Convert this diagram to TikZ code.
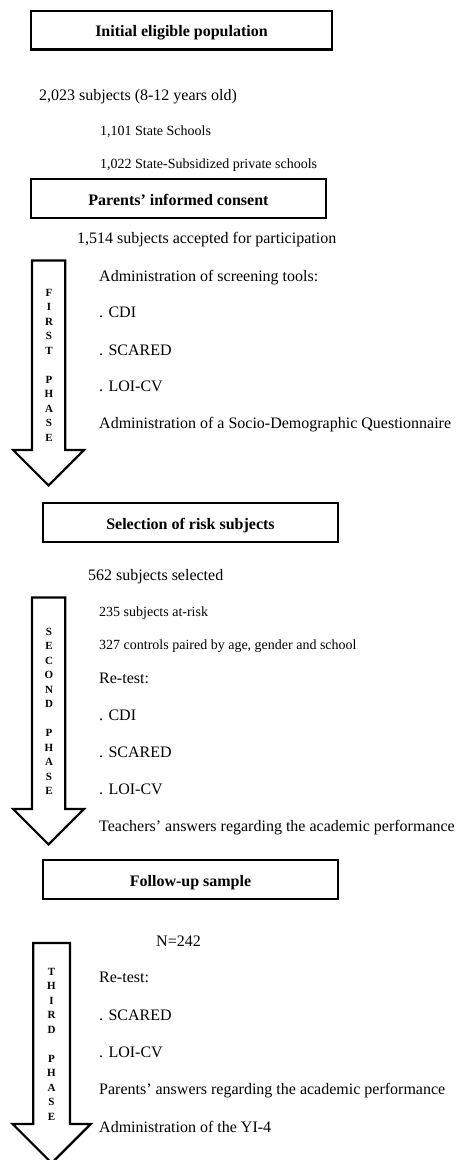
\documentclass[tikz,border=0pt]{standalone}
\usepackage{fontspec}
\setmainfont{Liberation Serif}
\begin{document}
\begin{tikzpicture}[x=1pt, y=-1pt]
    \tikzstyle{hdr}=[draw=black, line width=2.4pt, minimum height=38.6pt, minimum width=294.6pt, inner sep=0pt, text height=13.2pt, text depth=0pt, font=\fontsize{16}{19}\selectfont\bfseries];
    \tikzstyle{txt}=[anchor=base west, inner sep=0pt, font=\fontsize{16}{19}\selectfont];
    \tikzstyle{sml}=[anchor=base west, inner sep=0pt, font=\fontsize{14}{17}\selectfont];
    \tikzstyle{phase}=[align=center, inner sep=0pt, font=\fontsize{11}{14.5}\selectfont\bfseries];
    \tikzstyle{blk}=[draw=black, line width=2.2pt, line join=miter];
    \useasboundingbox (0, 0) rectangle (459, 1160);

    % population and consent
	\node (init) at (181.5, 30) [hdr, minimum width=300.6pt] {Initial eligible population};
	\node (total) at (39, 100) [txt] {2,023 subjects (8-12 years old)};
	\node (state) at (100, 135) [sml] {1,101 State Schools};
	\node (subsid) at (100, 168) [sml] {1,022 State-Subsidized private schools};
	\node (consent) at (178.5, 198.5) [hdr] {Parents' informed consent};
	\node (accepted) at (77, 243) [txt] {1,514 subjects accepted for participation};

    % first phase
	\draw[blk] (32, 260.5) -- (65.3, 260.5) -- (65.3, 450) -- (84, 450) -- (48.6, 485.4) -- (13.2, 450) -- (32, 450) -- cycle;
	\node (first) at (49, 365) [phase] {F\\I\\R\\S\\T\\[14.5pt]P\\H\\A\\S\\E};
	\node (screen) at (99, 281) [txt] {Administration of screening tools:};
	\node (cdiA) at (99, 317) [txt] {. CDI};
	\node (scaredA) at (99, 355) [txt] {. SCARED};
	\node (loiA) at (99, 391) [txt] {. LOI-CV};
	\node (socio) at (99, 428) [txt] {Administration of a Socio-Demographic Questionnaire};

    % selection
	\node (risk) at (190.5, 522.5) [hdr] {Selection of risk subjects};
	\node (selected) at (88, 580) [txt] {562 subjects selected};

    % second phase
	\draw[blk] (32, 597.5) -- (65.3, 597.5) -- (65.3, 809) -- (84, 809) -- (48.6, 844.4) -- (13.2, 809) -- (32, 809) -- cycle;
	\node (second) at (49, 711.5) [phase] {S\\E\\C\\O\\N\\D\\[14.5pt]P\\H\\A\\S\\E};
	\node (atrisk) at (99, 616) [sml] {235 subjects at-risk};
	\node (controls) at (99, 649) [sml] {327 controls paired by age, gender and school};
	\node (retestB) at (99, 683) [txt] {Re-test:};
	\node (cdiB) at (99, 720) [txt] {. CDI};
	\node (scaredB) at (99, 757) [txt] {. SCARED};
	\node (loiB) at (99, 794) [txt] {. LOI-CV};
	\node (teachers) at (99, 831) [txt] {Teachers' answers regarding the academic performance};

    % follow-up
	\node (follow) at (190.5, 879.5) [hdr] {Follow-up sample};
	\node (nsample) at (156, 946) [txt] {N=242};

    % third phase
	\draw[blk] (33.3, 943) -- (70, 943) -- (70, 1124) -- (90.7, 1124) -- (51.7, 1163) -- (12.7, 1124) -- (33.3, 1124) -- cycle;
	\node (third) at (51.5, 1044) [phase] {T\\H\\I\\R\\D\\[14.5pt]P\\H\\A\\S\\E};
	\node (retestC) at (99, 982) [txt] {Re-test:};
	\node (scaredC) at (99, 1020) [txt] {. SCARED};
	\node (loiC) at (99, 1057) [txt] {. LOI-CV};
	\node (parents) at (99, 1094) [txt] {Parents' answers regarding the academic performance};
	\node (yi) at (99, 1132) [txt] {Administration of the YI-4};
\end{tikzpicture}
\end{document}
